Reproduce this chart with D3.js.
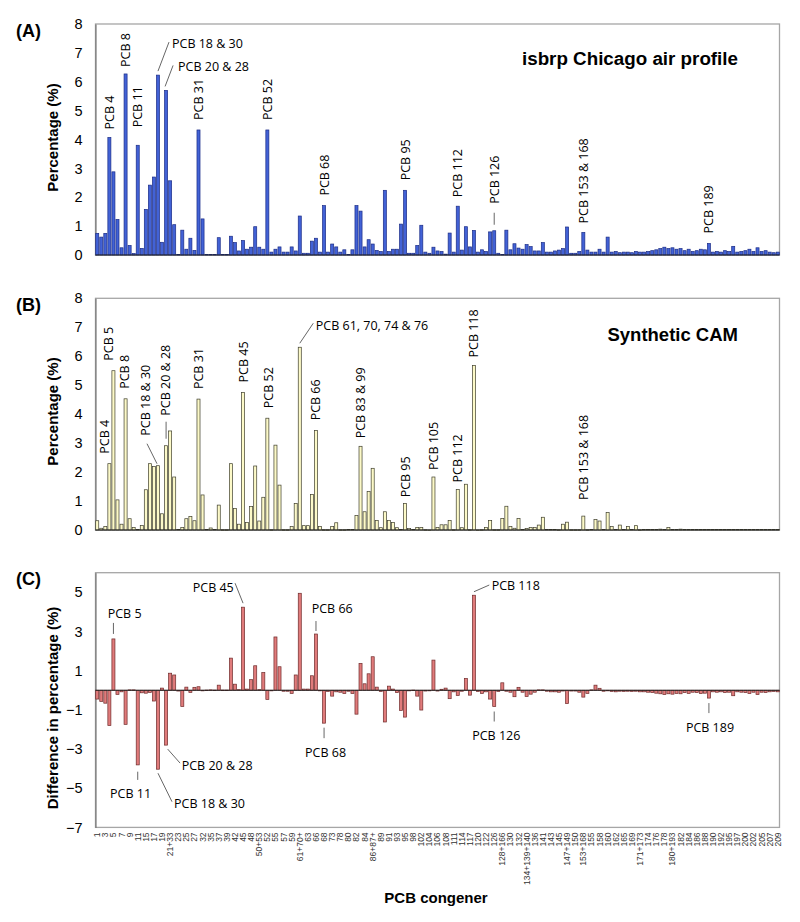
<!DOCTYPE html>
<html><head><meta charset="utf-8">
<script src="https://cdn.jsdelivr.net/npm/d3@7"></script>
<style>body{margin:0;background:#fff}</style>
</head><body>
<script>
// ---------- DATA ----------
const categories = ["1","2","3","4","5","6","7","8","9","10","11","12+13","15","16","17","18+30","19","20+28","21+33","22",
"23","24","25","26+29","27","31","32","34","35","36","37","38","39","40+41+71","42","44+47+65","45","46","48","49+69",
"50+53","51","52","54","55","56","57","58","59","60","61+70+74+76","64","63","67","66","72","68","77","73","79",
"78","81","80","85","82","83+99","84","90+101+113","86+87+97+109+119+125","88","89","92","91","94","93","96","95","100","98","103",
"102","107","104","105","106","110","108","115","111","112","114","116","117","118","120","121","122","123","126","127",
"128+166","129+138+163","130","131","132","133","134+139+140","135+151+154","136","137","141","142","143","144","145","146","147+149","148","150","152",
"153+168","156+157","155","159","158","161","160","164","162","167","165","170","169","172","171+173","175","174","177","176","179",
"178","181","180+193","183+185","182","187","184","191","186","194","188","189","190","196","192","198","195","199","197","201",
"200","203","202","204","205","206","207","208","209"];

const tickLabels = ["1","3","5","7","9","11","15","17","19","21+33","23","25","27","32","35","37","39","42","45","48",
"50+53","52","55","57","59","61+70+","63","66","68","73","78","80","82","84","86+87+","89","91","93","95","98",
"102","104","106","108","111","114","117","120","122","126","128+166","130","132","134+139+140","136","141","143","145","147+149","150",
"153+168","155","158","160","162","165","169","171+173","174","176","178","180+193","182","184","186","188","190","192","195","197",
"200","202","205","207","209"];

const airProfile = [0.75,0.62,0.75,4.07,2.88,1.23,0.25,6.27,0.33,0.05,3.80,0.23,1.58,2.42,2.70,6.23,0.44,5.70,2.57,1.05,
0.02,0.86,0.20,0.58,0.16,4.33,1.25,0.02,0.02,0.02,0.60,0.02,0.02,0.65,0.43,0.14,0.50,0.20,0.27,0.98,
0.27,0.20,4.33,0.10,0.20,0.28,0.10,0.10,0.28,0.14,1.35,0.06,0.06,0.48,0.58,0.10,1.71,0.10,0.38,0.28,
0.10,0.18,0.02,0.18,1.71,1.52,0.28,0.53,0.38,0.16,0.12,2.24,0.12,0.20,0.20,1.07,2.24,0.06,0.06,0.33,
1.03,0.10,0.06,0.27,0.14,0.12,0.03,0.76,0.10,1.69,0.17,0.98,0.28,0.85,0.10,0.18,0.12,0.80,0.84,0.06,
0.02,0.86,0.18,0.39,0.24,0.20,0.36,0.29,0.14,0.14,0.43,0.10,0.10,0.14,0.17,0.22,0.97,0.06,0.06,0.12,
0.78,0.17,0.10,0.10,0.20,0.10,0.62,0.10,0.12,0.08,0.10,0.10,0.08,0.12,0.10,0.10,0.12,0.15,0.18,0.22,
0.27,0.22,0.25,0.20,0.22,0.15,0.20,0.12,0.15,0.20,0.18,0.40,0.10,0.12,0.10,0.15,0.12,0.30,0.10,0.12,
0.15,0.20,0.12,0.25,0.12,0.15,0.10,0.08,0.10];

const syntheticCAM = [0.32,0.06,0.12,2.29,5.50,1.04,0.20,4.53,0.39,0.09,0.02,0.16,1.39,2.29,2.19,2.22,0.56,2.91,3.42,1.83,
0.02,0.09,0.39,0.47,0.32,4.52,1.21,0.02,0.07,0.02,0.86,0.01,0.01,2.29,0.74,0.20,4.75,0.26,0.81,2.21,
0.31,1.13,3.86,0.01,2.93,1.55,0.01,0.01,0.12,0.92,6.31,0.15,0.15,1.23,3.44,0.12,0.01,0.01,0.12,0.25,
0.01,0.01,0.02,0.02,0.50,2.89,0.63,1.33,2.13,0.33,0.08,0.63,0.33,0.26,0.08,0.02,0.92,0.05,0.02,0.09,
0.09,0.01,0.00,1.83,0.09,0.18,0.18,0.33,0.01,1.40,0.08,1.58,0.01,5.68,0.00,0.01,0.09,0.33,0.01,0.01,
0.40,0.82,0.12,0.06,0.40,0.02,0.05,0.09,0.09,0.17,0.44,0.02,0.02,0.02,0.01,0.20,0.27,0.01,0.01,0.01,
0.48,0.01,0.02,0.36,0.31,0.02,0.60,0.12,0.02,0.17,0.02,0.12,0.02,0.15,0.01,0.02,0.02,0.02,0.02,0.03,
0.02,0.09,0.02,0.02,0.03,0.02,0.02,0.02,0.02,0.02,0.02,0.02,0.02,0.02,0.02,0.02,0.02,0.02,0.02,0.02,
0.02,0.02,0.02,0.02,0.02,0.02,0.02,0.02,0.02];

const difference = [-0.45,-0.57,-0.66,-1.80,2.62,-0.21,-0.08,-1.74,0.02,0.02,-3.81,-0.13,-0.15,-0.11,-0.55,-4.03,0.11,-2.80,0.87,0.78,
-0.04,-0.83,0.16,-0.11,0.15,0.18,-0.03,0.01,0.02,0.01,0.26,0.01,0.01,1.64,0.31,0.03,4.24,0.06,0.54,1.25,
0.03,0.90,-0.47,-0.02,2.72,1.20,-0.05,-0.05,-0.16,0.78,4.95,0.06,0.06,0.74,2.87,-0.02,-1.68,-0.06,-0.30,-0.08,
-0.10,-0.17,-0.05,-0.17,-1.22,1.37,0.33,0.84,1.71,0.16,-0.06,-1.62,0.21,0.06,-0.12,-1.03,-1.37,-0.02,0.01,-0.30,
-1.01,-0.04,-0.02,1.54,-0.04,0.05,0.11,-0.43,-0.08,-0.27,-0.05,0.60,-0.25,4.85,-0.06,-0.16,-0.08,-0.45,-0.83,-0.06,
0.38,-0.05,-0.10,-0.33,0.15,-0.10,-0.32,-0.20,-0.10,0.02,0.02,-0.05,-0.08,-0.08,-0.10,-0.04,-0.68,-0.04,-0.04,-0.10,
-0.35,-0.16,0.02,0.26,0.10,-0.05,-0.03,-0.06,-0.08,-0.05,-0.06,-0.05,-0.06,-0.05,-0.08,-0.08,-0.10,-0.12,-0.15,-0.18,
-0.22,-0.18,-0.20,-0.16,-0.18,-0.12,-0.16,-0.10,-0.12,-0.17,-0.15,-0.40,-0.08,-0.10,-0.08,-0.12,-0.10,-0.28,-0.08,-0.10,
-0.12,-0.17,-0.10,-0.22,-0.10,-0.12,-0.08,-0.06,-0.08];

// annotation definitions: category, text, kind ('v' vertical above bar, 'h' horizontal with leader)
const annotationsA = [
  {cat:"4",text:"PCB 4",kind:"v",gap:8},
  {cat:"8",text:"PCB 8",kind:"v",gap:7},
  {cat:"11",text:"PCB 11",kind:"v",gap:18},
  {cat:"18+30",text:"PCB 18 & 30",kind:"h",line:[0,-4,11,-33],tx:14,ty:-27},
  {cat:"20+28",text:"PCB 20 & 28",kind:"h",line:[-1,-4,7,-25],tx:12,ty:-19},
  {cat:"31",text:"PCB 31",kind:"v",gap:10},
  {cat:"52",text:"PCB 52",kind:"v",gap:10},
  {cat:"68",text:"PCB 68",kind:"v",gap:10},
  {cat:"95",text:"PCB 95",kind:"v",gap:10},
  {cat:"112",text:"PCB 112",kind:"v",gap:9},
  {cat:"126",text:"PCB 126",kind:"v",gap:27,tick:[-18,-6]},
  {cat:"153+168",text:"PCB 153 & 168",kind:"v",gap:9},
  {cat:"189",text:"PCB 189",kind:"v",gap:10}
];
const annotationsB = [
  {cat:"4",text:"PCB 4",kind:"v",gap:10,dx:-4.5},
  {cat:"5",text:"PCB 5",kind:"v",gap:10,dx:-4.5},
  {cat:"8",text:"PCB 8",kind:"v",gap:10,dx:-1.5},
  {cat:"18+30",text:"PCB 18 & 30",kind:"v",gap:30,dx:-12,line:[-11,-22,-1,-2]},
  {cat:"20+28",text:"PCB 20 & 28",kind:"v",gap:30,dx:-0.5,tick:[-24,-7]},
  {cat:"31",text:"PCB 31",kind:"v",gap:10},
  {cat:"45",text:"PCB 45",kind:"v",gap:10},
  {cat:"52",text:"PCB 52",kind:"v",gap:10,dx:1},
  {cat:"61+70+74+76",text:"PCB 61, 70, 74 & 76",kind:"h",line:[0,-4,13.5,-24],tx:16,ty:-17},
  {cat:"66",text:"PCB 66",kind:"v",gap:10},
  {cat:"83+99",text:"PCB 83 & 99",kind:"v",gap:8},
  {cat:"95",text:"PCB 95",kind:"v",gap:6},
  {cat:"105",text:"PCB 105",kind:"v",gap:7},
  {cat:"112",text:"PCB 112",kind:"v",gap:7},
  {cat:"118",text:"PCB 118",kind:"v",gap:8},
  {cat:"153+168",text:"PCB 153 & 168",kind:"v",gap:16}
];
const annotationsC = [
  {cat:"5",text:"PCB 5",kind:"h",line:[0,-16,0,-5],tx:-5.7,ty:-20.6},
  {cat:"45",text:"PCB 45",kind:"h",line:[-8,-24,0,-4],tx:-50.3,ty:-15.5},
  {cat:"66",text:"PCB 66",kind:"h",line:[0,-13,0,-3],tx:-4.3,ty:-20.7},
  {cat:"118",text:"PCB 118",kind:"h",line:[0,-3.5,15.3,-10.2],tx:17.7,ty:-5.2},
  {cat:"11",text:"PCB 11",kind:"h",line:[0,6.8,0,15],tx:-27.7,ty:33.4},
  {cat:"18+30",text:"PCB 18 & 30",kind:"h",line:[0,4,14,32.5],tx:16.1,ty:39},
  {cat:"20+28",text:"PCB 20 & 28",kind:"h",line:[1.6,4,14,18],tx:15.6,ty:25},
  {cat:"68",text:"PCB 68",kind:"h",line:[0,4.5,0,15],tx:-19,ty:33.5},
  {cat:"126",text:"PCB 126",kind:"h",line:[0,5,0,15],tx:-22,ty:33.5},
  {cat:"189",text:"PCB 189",kind:"h",line:[0,5,0,15],tx:-23,ty:33.6}
];

// ---------- DRAW ----------
const W = 800, H = 922;
const svg = d3.select("body").append("svg").attr("width", W).attr("height", H);
svg.append("rect").attr("width", W).attr("height", H).attr("fill", "#fff");

const left = 95.5, right = 779.5;
const x = d3.scaleBand().domain(categories).range([left, right]).paddingInner(0.25).paddingOuter(0.05);
const annFont = "'Open Sans','Noto Sans',sans-serif";
const boldFont = "'Liberation Sans',Arial,sans-serif";

const panels = [
  {tag:"(A)", tagY:37, values:airProfile, domain:[0,8], range:[255,24], ticks:d3.range(0,9),
   fill:"#4262d6", stroke:"#1b2c86", title:"isbrp Chicago air profile", titleY:65, titleSize:18.8,
   ylab:"Percentage (%)", ylabY:137.5, ann:annotationsA},
  {tag:"(B)", tagY:311, values:syntheticCAM, domain:[0,8], range:[530,298.3], ticks:d3.range(0,9),
   fill:"#fcf9c8", stroke:"#3e3e2c", title:"Synthetic CAM", titleY:340.5, titleSize:18.5,
   ylab:"Percentage (%)", ylabY:411.5, ann:annotationsB},
  {tag:"(C)", tagY:585, values:difference, domain:[-7,6], range:[827.4,572.7], ticks:[-7,-5,-3,-1,1,3,5],
   fill:"#e07b7b", stroke:"#6e2a2a", title:null,
   ylab:"Difference in percentage (%)", ylabY:708, ann:annotationsC}
];

panels.forEach((p, pi) => {
  const y = d3.scaleLinear().domain(p.domain).range(p.range);
  const g = svg.append("g");
  const top = p.range[1], bot = p.range[0];
  // frame
  g.append("rect").attr("x", left).attr("y", top).attr("width", right - left).attr("height", bot - top)
    .attr("fill", "none").attr("stroke", "#a6a6a6").attr("stroke-width", 1.3);
  // y axis
  const ya = g.append("g").attr("transform", `translate(${left},0)`)
    .call(d3.axisLeft(y).tickValues(p.ticks).tickSize(0).tickPadding(13).tickFormat(d3.format("d")));
  ya.select(".domain").attr("stroke", "#6b6b6b");
  ya.selectAll("text").attr("font-family", boldFont).attr("font-size", 14.5).attr("fill", "#000");
  // bars
  const vals = categories.map((c, i) => ({c, v: p.values[i]}));
  g.append("g").selectAll("rect").data(vals).join("rect")
    .attr("x", d => x(d.c)).attr("width", x.bandwidth())
    .attr("y", d => Math.min(y(d.v), y(0)))
    .attr("height", d => Math.max(0.6, Math.abs(y(d.v) - y(0))))
    .attr("fill", p.fill).attr("stroke", p.stroke).attr("stroke-width", 0.7);
  // baseline
  g.append("line").attr("x1", left).attr("x2", right).attr("y1", y(0)).attr("y2", y(0))
    .attr("stroke", "#222").attr("stroke-width", 1);
  // tag
  svg.append("text").attr("x", 16).attr("y", p.tagY).text(p.tag)
    .attr("font-family", boldFont).attr("font-weight", "bold").attr("font-size", 18);
  if (p.title) svg.append("text").attr("x", 738).attr("y", p.titleY).attr("text-anchor", "end").text(p.title)
    .attr("font-family", boldFont).attr("font-weight", "bold").attr("font-size", p.titleSize);
  svg.append("text").attr("transform", `translate(57.5,${p.ylabY}) rotate(-90)`).attr("text-anchor", "middle")
    .text(p.ylab).attr("font-family", boldFont).attr("font-weight", "bold").attr("font-size", 15);
  // annotations
  const ag = g.append("g");
  p.ann.forEach(a => {
    const i = categories.indexOf(a.cat);
    const cx = x(a.cat) + x.bandwidth() / 2;
    const cy = y(p.values[i]);
    if (a.kind === "v") {
      ag.append("text").attr("transform", `translate(${cx + (a.dx || 0)},${cy - a.gap}) rotate(-90)`)
        .attr("dy", "0.36em").attr("text-anchor", "start").text(a.text)
        .attr("font-family", annFont).attr("font-size", 12.5).attr("fill", "#000");
      if (a.tick) ag.append("line").attr("x1", cx).attr("x2", cx).attr("y1", cy + a.tick[0]).attr("y2", cy + a.tick[1])
        .attr("stroke", "#555").attr("stroke-width", 0.9);
    } else {
      ag.append("text").attr("x", cx + a.tx).attr("y", cy + a.ty).text(a.text)
        .attr("font-family", annFont).attr("font-size", 12.5).attr("fill", "#000");
    }
    if (a.line) ag.append("line").attr("x1", cx + a.line[0]).attr("y1", cy + a.line[1])
      .attr("x2", cx + a.line[2]).attr("y2", cy + a.line[3]).attr("stroke", "#555").attr("stroke-width", 0.9);
  });
  if (pi === 2) {
    const xa = svg.append("g").attr("transform", `translate(0,${bot})`)
      .call(d3.axisBottom(x).tickValues(categories.filter((d, i) => i % 2 === 0)).tickSize(0)
        .tickFormat((d, i) => tickLabels[i]));
    xa.select(".domain").remove();
    xa.selectAll("text").attr("transform", "rotate(-90)").attr("text-anchor", "end")
      .attr("x", -5).attr("y", 0).attr("dy", "0.35em")
      .attr("font-family", "'Liberation Sans',Arial,sans-serif").attr("font-size", 8.5).attr("fill", "#333");
  }
});

svg.append("text").attr("x", 436).attr("y", 903).attr("text-anchor", "middle").text("PCB congener")
  .attr("font-family", boldFont).attr("font-weight", "bold").attr("font-size", 15);
</script>
</body></html>
